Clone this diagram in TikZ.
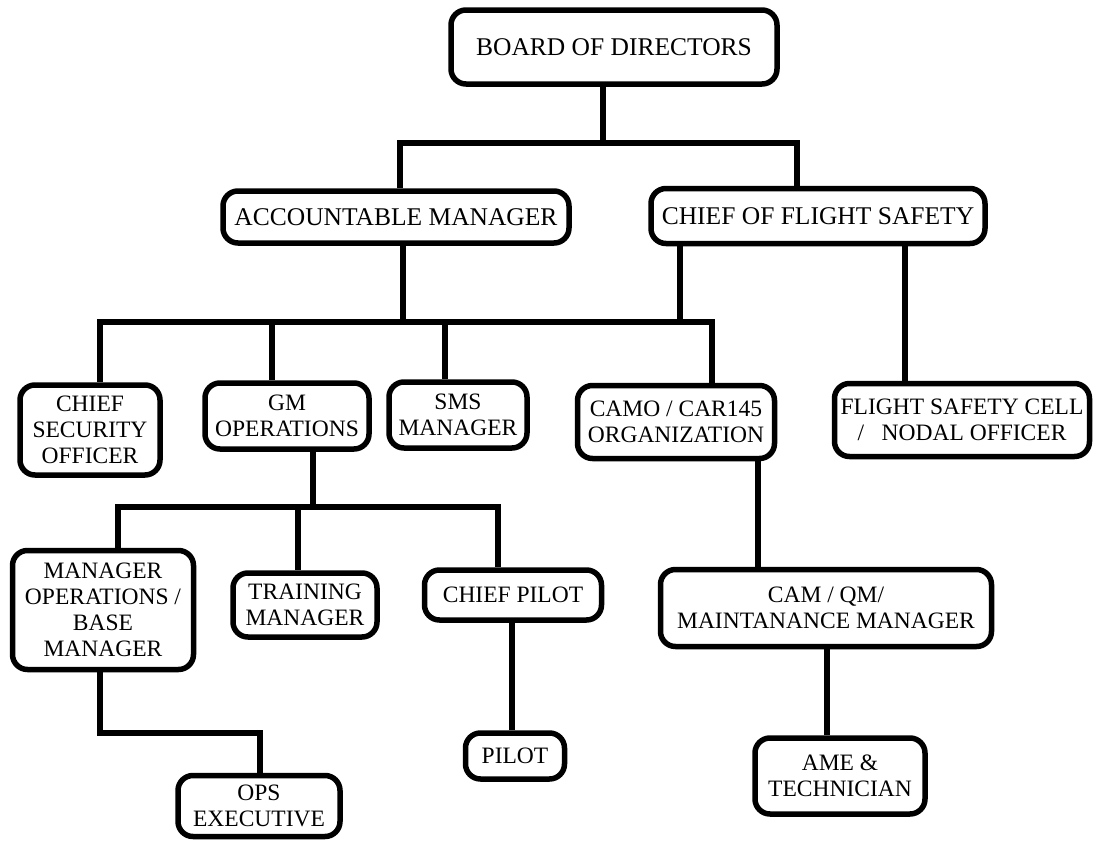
\documentclass[tikz,border=0pt]{standalone}
\usepackage{fontspec}
\setmainfont{Liberation Serif}
\begin{document}
\begin{tikzpicture}[x=1pt,y=-1pt,
	post/.style={draw,line width=5.5pt,rounded corners=15pt,fill=white,align=center,inner sep=0pt},
	head/.style={post,font=\fontsize{25.5}{27}\selectfont},
	wire/.style={line width=6pt},
	font=\fontsize{23.5}{26}\selectfont]
	\useasboundingbox (0,0) rectangle (1096,844);
	% boxes
	\node[head,minimum width=326,minimum height=74] (board) at (614,47) {BOARD OF DIRECTORS};
	\node[head,minimum width=346,minimum height=52] (am) at (396,217) {ACCOUNTABLE MANAGER};
	\node[head,minimum width=334,minimum height=55] (cfs) at (818,216) {CHIEF OF FLIGHT SAFETY};
	\node[post,minimum width=140,minimum height=90] (cso) at (90,430) {CHIEF\\SECURITY\\OFFICER};
	\node[post,minimum width=164,minimum height=66] (gmo) at (287,416) {GM\\OPERATIONS};
	\node[post,minimum width=138,minimum height=66] (sms) at (458,415) {SMS\\MANAGER};
	\node[post,minimum width=197,minimum height=73] (camo) at (676,422) {CAMO / CAR145\\ORGANIZATION};
	\node[post,minimum width=255,minimum height=73] (fsc) at (962,420) {FLIGHT SAFETY CELL\\/\ \ \ NODAL OFFICER};
	\node[post,minimum width=181,minimum height=119] (mobm) at (103,610) {MANAGER\\OPERATIONS /\\BASE\\MANAGER};
	\node[post,minimum width=144,minimum height=64] (trm) at (305,605) {TRAINING\\MANAGER};
	\node[post,minimum width=177,minimum height=50] (cpl) at (513,595) {CHIEF PILOT};
	\node[post,minimum width=331,minimum height=77] (cam) at (826,608) {CAM / QM/\\MAINTANANCE MANAGER};
	\node[post,minimum width=162,minimum height=61] (ops) at (259,806) {OPS\\EXECUTIVE};
	\node[post,minimum width=99,minimum height=46] (pil) at (515,756) {PILOT};
	\node[post,minimum width=170,minimum height=76] (ame) at (840,776) {AME \&\\TECHNICIAN};
	% junction points
	\coordinate (b0) at (603,143); \coordinate (b0l) at (400,143); \coordinate (b0r) at (797,143);
	\coordinate (b1) at (403,322); \coordinate (b1l) at (100,322); \coordinate (b1r) at (712,322);
	\coordinate (k1) at (272,322); \coordinate (k2) at (445,322);
	\coordinate (c1) at (680,322); \coordinate (c2) at (905,300);
	\coordinate (b2) at (313,507); \coordinate (b2l) at (118,507); \coordinate (b2r) at (498,507);
	\coordinate (k3) at (298,507);
	\coordinate (m1) at (100,733); \coordinate (m2) at (260,733);
	\coordinate (p1) at (512,700); \coordinate (c3) at (758,500); \coordinate (c4) at (827,700);
	% connectors
	\draw[wire] (board.south -| b0) -- (b0);
	\draw[wire] (am.north -| b0l) |- (b0r) -- (cfs.north -| b0r);
	\draw[wire] (am.south -| b1) -- (b1);
	\draw[wire] (cso.north -| b1l) |- (b1r) -- (camo.north -| b1r);
	\draw[wire] (k1) -- (gmo.north -| k1);
	\draw[wire] (k2) -- (sms.north -| k2);
	\draw[wire] (cfs.south -| c1) -- (c1);
	\draw[wire] (cfs.south -| c2) -- (fsc.north -| c2);
	\draw[wire] (gmo.south -| b2) -- (b2);
	\draw[wire] (mobm.north -| b2l) |- (b2r) -- (cpl.north -| b2r);
	\draw[wire] (k3) -- (trm.north -| k3);
	\draw[wire] (mobm.south -| m1) |- (m2) -- (ops.north -| m2);
	\draw[wire] (cpl.south -| p1) -- (pil.north -| p1);
	\draw[wire] (camo.south -| c3) -- (cam.north -| c3);
	\draw[wire] (cam.south -| c4) -- (ame.north -| c4);
\end{tikzpicture}
\end{document}
